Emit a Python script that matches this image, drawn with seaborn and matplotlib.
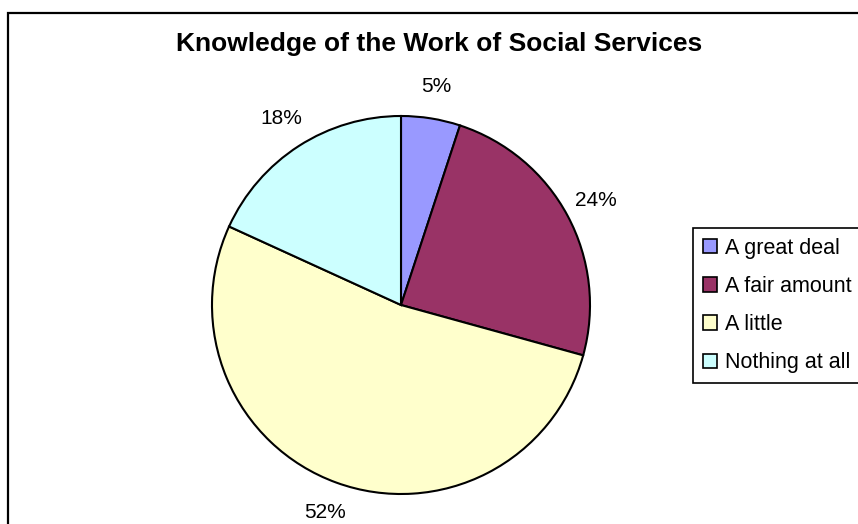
import matplotlib
matplotlib.use("Agg")
import matplotlib.pyplot as plt
from matplotlib.patches import Rectangle, Patch
import seaborn as sns

# Survey responses
categories = ["A great deal", "A fair amount", "A little", "Nothing at all"]
shares = [5, 24, 52, 18]
colors = ["#9999FF", "#993366", "#FFFFCC", "#CCFFFF"]
title = "Knowledge of the Work of Social Services"

sns.set_theme(style="white")
plt.rcParams["font.family"] = ["Liberation Sans", "DejaVu Sans"]
plt.rcParams["text.color"] = "black"

W, H = 858, 524
fig = plt.figure(figsize=(W / 100, H / 100), dpi=100)
fig.patch.set_facecolor("white")

# chart frame (runs off the right and bottom edges)
fig.patches.append(Rectangle((8 / W, -0.05), 1.2, 1 - 13 / H + 0.05,
                             transform=fig.transFigure, fill=False,
                             edgecolor="black", linewidth=1.6))

# pie area: centre (401, 305) px, radius 189 px
cx, cy, r = 401, 305, 189
ax = fig.add_axes([(cx - r) / W, (H - cy - r) / H, 2 * r / W, 2 * r / H])
wedges, _, autotexts = ax.pie(
    shares, colors=colors, startangle=90, counterclock=False,
    autopct=lambda p: f"{p * sum(shares) / 100:.0f}%", pctdistance=1.17,
    wedgeprops=dict(edgecolor="black", linewidth=1.5),
    textprops=dict(fontsize=15, color="black"),
)
ax.set_xlim(-1, 1)
ax.set_ylim(-1, 1)
ax.set_aspect("equal")
ax.axis("off")

fig.text(439 / W, 1 - 44 / H, title, ha="center", va="center",
         fontsize=19, fontweight="bold", color="black")

handles = [Patch(facecolor=c, edgecolor="black", linewidth=1.2) for c in colors]
leg = fig.legend(handles, categories, loc="upper left",
                 bbox_to_anchor=(693 / W, 0, 0.3, 1 - 228 / H), mode="expand",
                 fontsize=15.5, frameon=True, fancybox=False, shadow=False,
                 framealpha=1.0,
                 handlelength=0.65, handleheight=0.65, handletextpad=0.37,
                 labelspacing=0.8, borderpad=0.45, borderaxespad=0.0)
leg.get_frame().set_edgecolor("black")
leg.get_frame().set_linewidth(1.2)
leg.get_frame().set_facecolor("white")
for t in leg.get_texts():
    t.set_color("black")

fig.savefig("out.png", dpi=100, facecolor="white")
